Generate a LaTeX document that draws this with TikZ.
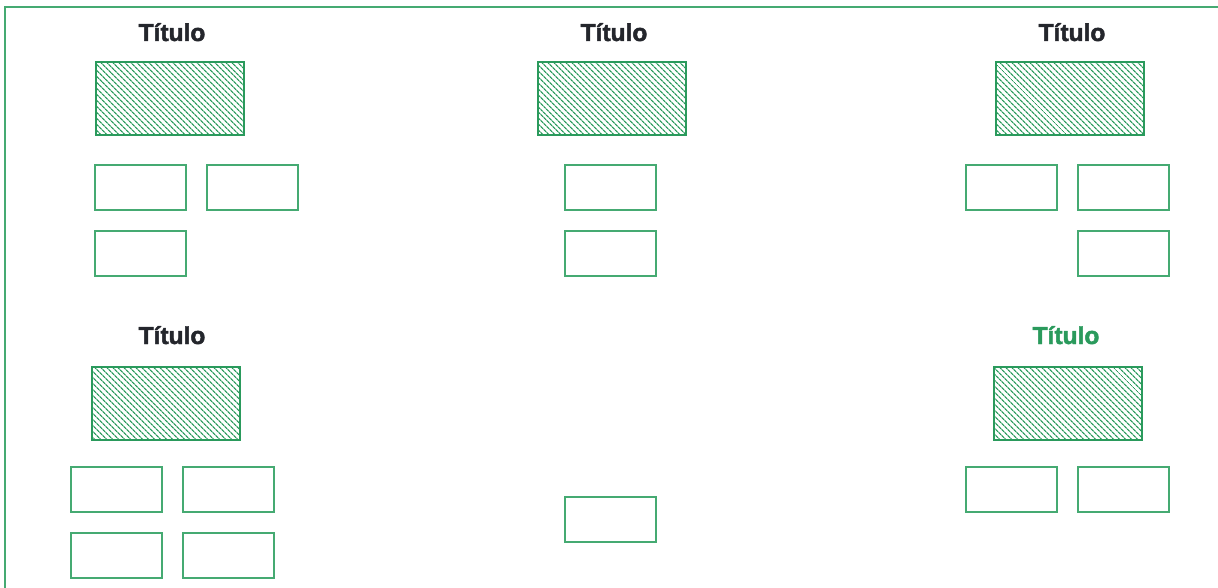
\documentclass[tikz,border=0pt]{standalone}
\usepackage{fontspec}
\setmainfont{Liberation Sans}
\newfontfamily\tituloface[FakeBold=2]{Liberation Sans Bold}
\usetikzlibrary{patterns.meta}
\usepackage{xcolor}
\definecolor{Verde}{HTML}{2A9A5C}
\definecolor{VerdeClaro}{HTML}{45AA72}
\definecolor{Tinta}{HTML}{24262C}
\tikzset{
  title node/.style={anchor=base,font=\fontsize{24.5}{27}\tituloface,text=Tinta,inner sep=0pt},
  hatch node/.style={draw=Verde,line width=2pt,minimum width=148pt,minimum height=73pt,inner sep=0pt,
    pattern={Lines[angle=-45,distance=4pt,line width=1.3pt]},pattern color=Verde},
  slot node/.style={draw=VerdeClaro,line width=2pt,minimum width=91pt,minimum height=45pt,inner sep=0pt}
}

\begin{document}
\begin{tikzpicture}[x=1pt,y=-1pt]
  \useasboundingbox (0,0) rectangle (1218,588);
  \draw[VerdeClaro,line width=2pt] (5,588) -- (5,7) -- (1218,7);
  % upper row
  \node[title node] (ta) at (172,41) {Título};
  \node[hatch node] (ha) at (169.5,99) {};
  \node[slot node] (a1) at (140,188) {};
  \node[slot node] (a2) at (252,188) {};
  \node[slot node] (a3) at (140,253.5) {};
  \node[title node] (tb) at (614,41) {Título};
  \node[hatch node] (hb) at (611.5,99) {};
  \node[slot node] (b1) at (610,188) {};
  \node[slot node] (b2) at (610,253.5) {};
  \node[title node] (tc) at (1072,41) {Título};
  \node[hatch node] (hc) at (1069.5,99) {};
  \node[slot node] (c1) at (1011.5,188) {};
  \node[slot node] (c2) at (1123.5,188) {};
  \node[slot node] (c3) at (1123.5,253.5) {};
  % lower row
  \node[title node] (td) at (172,344) {Título};
  \node[hatch node] (hd) at (166,403) {};
  \node[slot node] (d1) at (116.5,489) {};
  \node[slot node] (d2) at (228.5,489) {};
  \node[slot node] (d3) at (116.5,555) {};
  \node[slot node] (d4) at (228.5,555) {};
  \node[slot node] (e1) at (610,519.5) {};
  \node[title node,text=Verde] (tf) at (1066,344) {Título};
  \node[hatch node] (hf) at (1068,403) {};
  \node[slot node] (f1) at (1011.5,489) {};
  \node[slot node] (f2) at (1123.5,489) {};
\end{tikzpicture}
\end{document}
